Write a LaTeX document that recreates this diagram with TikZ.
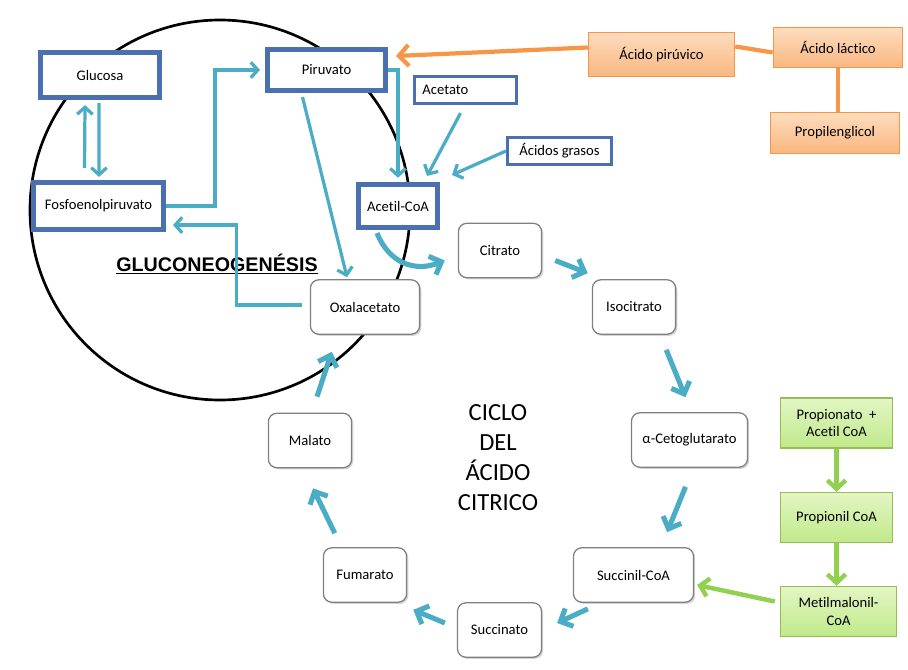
\documentclass[tikz,border=0pt]{standalone}
\usepackage{fontspec}
\setmainfont{Carlito}[Ligatures=CommonOff]
\newfontfamily\headfont{Liberation Sans}
\usetikzlibrary{arrows.meta,calc,shadows}

\definecolor{boxblue}{RGB}{74,112,176}
\definecolor{linkblue}{RGB}{75,172,198}
\definecolor{orangeline}{RGB}{247,150,70}
\definecolor{orangetop}{RGB}{253,220,190}
\definecolor{orangebot}{RGB}{250,183,128}
\definecolor{greenline}{RGB}{146,208,80}
\definecolor{greenborder}{RGB}{155,187,89}
\definecolor{greentop}{RGB}{226,246,196}
\definecolor{greenbot}{RGB}{192,233,138}

\tikzset{
  every node/.style={font=\fontsize{10.4}{12.5}\selectfont, inner sep=0pt},
  bluebox/.style={draw=boxblue, line width=3.5pt, fill=white},
  thinbox/.style={draw=boxblue, line width=2.2pt, fill=white, minimum height=0.68cm},
  cyclebox/.style={draw=black!50, line width=0.9pt, rounded corners=6pt, fill=white,
    minimum height=1.36cm, drop shadow={shadow xshift=1.2pt, shadow yshift=-1.2pt, opacity=0.35}},
  orangebox/.style={draw=orangeline, line width=1pt, top color=orangetop, bottom color=orangebot},
  greenbox/.style={draw=greenborder, line width=1pt, top color=greentop, bottom color=greenbot,
    align=center, minimum width=2.8cm, minimum height=1.25cm},
  flow/.style={linkblue, line width=2.3pt, -{Straight Barb[length=5pt,width=11pt]}},
  cyc/.style={linkblue, line width=3.6pt, -{Straight Barb[length=7pt,width=14pt]}},
  orangelink/.style={orangeline, line width=3pt},
  greenlink/.style={greenline, line width=3.2pt, -{Straight Barb[length=6pt,width=13pt]}}
}

\begin{document}
\begin{tikzpicture}[x=0.025cm, y=-0.025cm]
  \useasboundingbox (0,0) rectangle (908,670);

  % gluconeogenesis region
  \draw[line width=1.9pt] (220,210) circle [radius=190];

  % blue boxes
  \node (glucosa) [bluebox, minimum width=2.98cm, minimum height=1.13cm] at (100,75) {Glucosa};
  \node (piruvato) [bluebox, minimum width=2.95cm, minimum height=1.03cm] at (326.5,70) {Piruvato};
  \node (fosfo) [bluebox, minimum width=3.25cm, minimum height=1.18cm] at (98.5,206) {Fosfoenolpiruvato};
  \node (acetil) [bluebox, minimum width=1.98cm, minimum height=1.08cm] at (398,206) {Acetil-CoA};
  \node (acetato) [thinbox, text width=2.15cm, align=left, inner xsep=0.2cm] at (465.5,90) {Acetato};
  \node (grasos) [thinbox, minimum width=2.6cm] at (559.5,151) {Ácidos grasos};

  % orange boxes
  \node (acpiruvico) [orangebox, minimum width=3.65cm, minimum height=1.1cm] at (661.5,54.5) {Ácido pirúvico};
  \node (lactico) [orangebox, minimum width=3.23cm, minimum height=1cm] at (838,47.5) {Ácido láctico};
  \node (propilen) [orangebox, minimum width=3.23cm, minimum height=1.03cm] at (835,133) {Propilenglicol};

  % citric acid cycle
  \node (citrato) [cyclebox, minimum width=2.08cm] at (500,250.5) {Citrato};
  \node (isocitrato) [cyclebox, minimum width=2.08cm] at (634,307) {Isocitrato};
  \node (ceto) [cyclebox, minimum width=2.9cm] at (689.5,440) {α-Cetoglutarato};
  \node (succinil) [cyclebox, minimum width=3cm] at (633.5,575) {Succinil-CoA};
  \node (succinato) [cyclebox, minimum width=2.1cm] at (499.5,630) {Succinato};
  \node (fumarato) [cyclebox, minimum width=2.08cm] at (365,575) {Fumarato};
  \node (malato) [cyclebox, minimum width=2.08cm] at (310,440.5) {Malato};
  \node (oxal) [cyclebox, minimum width=2.73cm] at (365,307) {Oxalacetato};

  % green boxes
  \node (propionato) [greenbox] at (836.5,423) {Propionato~~+\\Acetil CoA};
  \node (propionil) [greenbox] at (836.5,517.5) {Propionil CoA};
  \node (metil) [greenbox, minimum width=2.9cm] at (838.5,611.5) {Metilmalonil-\\CoA};

  \node (ciclo) [align=center, font=\fontsize{17.5}{21.3}\selectfont] at (498,458) {CICLO\\DEL\\ÁCIDO\\CITRICO};
  \node (gluco) [font=\headfont\bfseries\fontsize{14}{16}\selectfont] at (217,264) {\underline{GLUCONEOGENÉSIS}};

  % gluconeogenesis links
  \draw[flow] ($(fosfo.north)+(-14,-12)$) -- ($(glucosa.south)+(-15,5)$);
  \draw[flow] ($(glucosa.south)+(-1,3)$) -- ($(fosfo.north)+(0.5,-3)$);
  \draw[flow] (fosfo.east) -- ++(49,0) |- ($(piruvato.west)+(-5,0)$);
  \draw[flow] ($(oxal.west)+(-8,-2)$) -- ++(-65,0) |- ($(fosfo.south east)+(7,-7)$);
  \draw[flow] ($(piruvato.south)+(-24,4)$) -- ($(oxal.north)+(-18,-2)$);
  \draw[flow, shorten >=3pt] (piruvato.east) -| (acetil.north);
  \draw[flow] ($(acetato.south)+(-5,8)$) -- ($(acetil.north east)+(-13,-6)$);
  \draw[flow] (grasos.west) -- ($(acetil.north east)+(12,-7)$);
  \draw[cyc] ($(acetil.south)+(-21,3)$) .. controls +(12,30) and +(-30,12) .. ($(citrato.west)+(-13,10)$);

  % cycle arrows
  \draw[cyc] ($(citrato.east)+(13,10)$) -- ($(isocitrato.north west)+(-4,-6)$);
  \draw[cyc] ($(isocitrato.south east)+(-10,15)$) -- ($(ceto.north)+(-4,-15)$);
  \draw[cyc] ($(ceto.south)+(-4,19)$) -- ($(succinil.north east)+(-27,-15)$);
  \draw[cyc] ($(succinil.south west)+(15,6)$) -- ($(succinato.east)+(15,-7)$);
  \draw[cyc] ($(succinato.west)+(-12,-7)$) -- ($(fumarato.south east)+(6,7)$);
  \draw[cyc] ($(fumarato.north west)+(12,-14)$) -- ($(malato.south)+(3,20)$);
  \draw[cyc] ($(malato.north)+(7,-16)$) -- ($(oxal.south west)+(22,17)$);

  % orange links
  \draw[orangelink, -{Straight Barb[length=7pt,width=15pt]}] ($(acpiruvico.west)+(0,-7)$) -- ($(piruvato.east)+(8,-14)$);
  \draw[orangelink] ($(acpiruvico.east)+(0,-8)$) -- ($(lactico.west)+(0,5)$);
  \draw[orangelink] (lactico.south) -- (lactico.south |- propilen.north);

  % green links
  \draw[greenlink] (propionato) -- (propionil);
  \draw[greenlink] (propionil.south) -- (propionil.south |- metil.north);
  \draw[greenlink] ($(metil.west)+(-5,-10)$) -- ($(succinil.east)+(3,10)$);
\end{tikzpicture}
\end{document}
